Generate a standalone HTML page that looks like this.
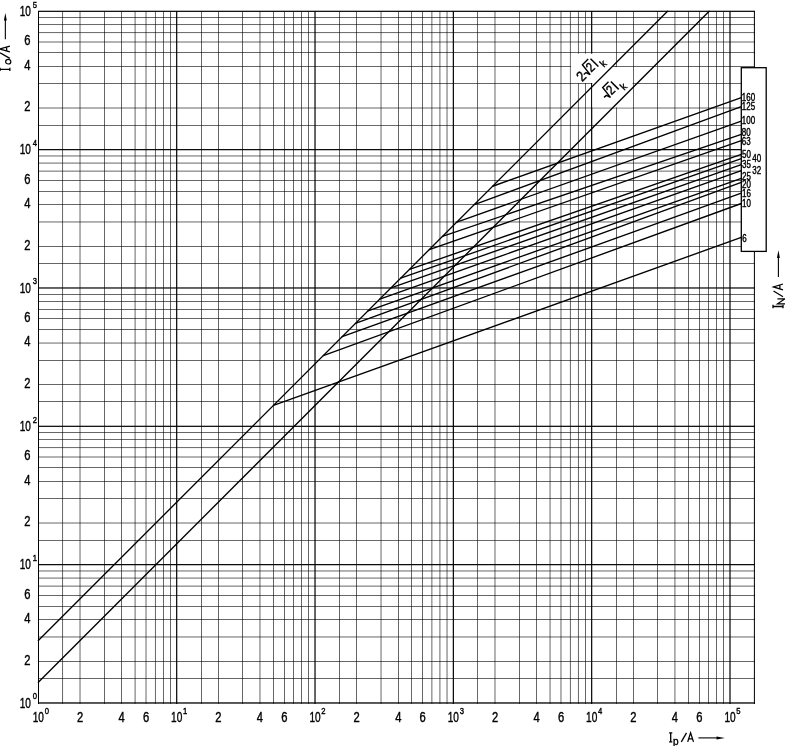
<!DOCTYPE html><html><head><meta charset="utf-8"><style>
html,body{margin:0;padding:0;background:#fff;}
svg{display:block;will-change:transform;}
text{font-family:"Liberation Sans", sans-serif;fill:#000;}
</style></head><body>
<svg width="785" height="746" viewBox="0 0 785 746">
<rect x="0" y="0" width="785" height="746" fill="#fff"/>

<g fill="#000" shape-rendering="crispEdges"><rect x="62" y="11" width="1" height="693" fill-opacity="0.572"/><rect x="63" y="11" width="1" height="693" fill-opacity="0.028"/><rect x="38" y="678" width="717" height="1" fill-opacity="0.600"/><rect x="79" y="11" width="1" height="693" fill-opacity="0.290"/><rect x="80" y="11" width="1" height="693" fill-opacity="0.310"/><rect x="38" y="661" width="717" height="1" fill-opacity="0.600"/><rect x="104" y="11" width="1" height="693" fill-opacity="0.600"/><rect x="38" y="636" width="717" height="1" fill-opacity="0.322"/><rect x="38" y="637" width="717" height="1" fill-opacity="0.278"/><rect x="121" y="11" width="1" height="693" fill-opacity="0.600"/><rect x="38" y="619" width="717" height="1" fill-opacity="0.600"/><rect x="134" y="11" width="1" height="693" fill-opacity="0.244"/><rect x="135" y="11" width="1" height="693" fill-opacity="0.356"/><rect x="38" y="606" width="717" height="1" fill-opacity="0.589"/><rect x="145" y="11" width="1" height="693" fill-opacity="0.291"/><rect x="146" y="11" width="1" height="693" fill-opacity="0.309"/><rect x="38" y="595" width="717" height="1" fill-opacity="0.600"/><rect x="154" y="11" width="1" height="693" fill-opacity="0.031"/><rect x="155" y="11" width="1" height="693" fill-opacity="0.569"/><rect x="38" y="585" width="717" height="1" fill-opacity="0.225"/><rect x="38" y="586" width="717" height="1" fill-opacity="0.375"/><rect x="163" y="11" width="1" height="693" fill-opacity="0.591"/><rect x="38" y="577" width="717" height="1" fill-opacity="0.247"/><rect x="38" y="578" width="717" height="1" fill-opacity="0.353"/><rect x="170" y="11" width="1" height="693" fill-opacity="0.600"/><rect x="38" y="570" width="717" height="1" fill-opacity="0.323"/><rect x="38" y="571" width="717" height="1" fill-opacity="0.277"/><rect x="176" y="11" width="1" height="693" fill-opacity="0.904"/><rect x="177" y="11" width="1" height="693" fill-opacity="0.296"/><rect x="38" y="564" width="717" height="1" fill-opacity="0.953"/><rect x="38" y="565" width="717" height="1" fill-opacity="0.247"/><rect x="201" y="11" width="1" height="693" fill-opacity="0.600"/><rect x="38" y="540" width="717" height="1" fill-opacity="0.588"/><rect x="218" y="11" width="1" height="693" fill-opacity="0.600"/><rect x="38" y="522" width="717" height="1" fill-opacity="0.295"/><rect x="38" y="523" width="717" height="1" fill-opacity="0.305"/><rect x="242" y="11" width="1" height="693" fill-opacity="0.600"/><rect x="38" y="498" width="717" height="1" fill-opacity="0.600"/><rect x="259" y="11" width="1" height="693" fill-opacity="0.323"/><rect x="260" y="11" width="1" height="693" fill-opacity="0.277"/><rect x="38" y="481" width="717" height="1" fill-opacity="0.600"/><rect x="273" y="11" width="1" height="693" fill-opacity="0.600"/><rect x="38" y="467" width="717" height="1" fill-opacity="0.600"/><rect x="284" y="11" width="1" height="693" fill-opacity="0.600"/><rect x="38" y="456" width="717" height="1" fill-opacity="0.297"/><rect x="38" y="457" width="717" height="1" fill-opacity="0.303"/><rect x="293" y="11" width="1" height="693" fill-opacity="0.600"/><rect x="38" y="447" width="717" height="1" fill-opacity="0.558"/><rect x="38" y="448" width="717" height="1" fill-opacity="0.042"/><rect x="301" y="11" width="1" height="693" fill-opacity="0.600"/><rect x="38" y="439" width="717" height="1" fill-opacity="0.580"/><rect x="308" y="11" width="1" height="693" fill-opacity="0.600"/><rect x="38" y="432" width="717" height="1" fill-opacity="0.600"/><rect x="314" y="11" width="1" height="693" fill-opacity="0.578"/><rect x="315" y="11" width="1" height="693" fill-opacity="0.622"/><rect x="38" y="425" width="717" height="1" fill-opacity="0.286"/><rect x="38" y="426" width="717" height="1" fill-opacity="0.914"/><rect x="339" y="11" width="1" height="693" fill-opacity="0.600"/><rect x="38" y="401" width="717" height="1" fill-opacity="0.600"/><rect x="356" y="11" width="1" height="693" fill-opacity="0.600"/><rect x="38" y="384" width="717" height="1" fill-opacity="0.600"/><rect x="380" y="11" width="1" height="693" fill-opacity="0.280"/><rect x="381" y="11" width="1" height="693" fill-opacity="0.320"/><rect x="38" y="360" width="717" height="1" fill-opacity="0.600"/><rect x="398" y="11" width="1" height="693" fill-opacity="0.600"/><rect x="38" y="342" width="717" height="1" fill-opacity="0.271"/><rect x="38" y="343" width="717" height="1" fill-opacity="0.329"/><rect x="411" y="11" width="1" height="693" fill-opacity="0.592"/><rect x="38" y="329" width="717" height="1" fill-opacity="0.600"/><rect x="422" y="11" width="1" height="693" fill-opacity="0.600"/><rect x="38" y="318" width="717" height="1" fill-opacity="0.600"/><rect x="431" y="11" width="1" height="693" fill-opacity="0.379"/><rect x="432" y="11" width="1" height="693" fill-opacity="0.221"/><rect x="38" y="309" width="717" height="1" fill-opacity="0.600"/><rect x="439" y="11" width="1" height="693" fill-opacity="0.357"/><rect x="440" y="11" width="1" height="693" fill-opacity="0.243"/><rect x="38" y="301" width="717" height="1" fill-opacity="0.600"/><rect x="446" y="11" width="1" height="693" fill-opacity="0.281"/><rect x="447" y="11" width="1" height="693" fill-opacity="0.319"/><rect x="38" y="294" width="717" height="1" fill-opacity="0.600"/><rect x="452" y="11" width="1" height="693" fill-opacity="0.252"/><rect x="453" y="11" width="1" height="693" fill-opacity="0.948"/><rect x="38" y="287" width="717" height="1" fill-opacity="0.619"/><rect x="38" y="288" width="717" height="1" fill-opacity="0.581"/><rect x="477" y="11" width="1" height="693" fill-opacity="0.594"/><rect x="38" y="263" width="717" height="1" fill-opacity="0.600"/><rect x="494" y="11" width="1" height="693" fill-opacity="0.312"/><rect x="495" y="11" width="1" height="693" fill-opacity="0.288"/><rect x="38" y="246" width="717" height="1" fill-opacity="0.600"/><rect x="519" y="11" width="1" height="693" fill-opacity="0.600"/><rect x="38" y="221" width="717" height="1" fill-opacity="0.321"/><rect x="38" y="222" width="717" height="1" fill-opacity="0.279"/><rect x="536" y="11" width="1" height="693" fill-opacity="0.600"/><rect x="38" y="204" width="717" height="1" fill-opacity="0.600"/><rect x="549" y="11" width="1" height="693" fill-opacity="0.266"/><rect x="550" y="11" width="1" height="693" fill-opacity="0.334"/><rect x="38" y="191" width="717" height="1" fill-opacity="0.590"/><rect x="560" y="11" width="1" height="693" fill-opacity="0.313"/><rect x="561" y="11" width="1" height="693" fill-opacity="0.287"/><rect x="38" y="180" width="717" height="1" fill-opacity="0.600"/><rect x="569" y="11" width="1" height="693" fill-opacity="0.053"/><rect x="570" y="11" width="1" height="693" fill-opacity="0.547"/><rect x="38" y="170" width="717" height="1" fill-opacity="0.224"/><rect x="38" y="171" width="717" height="1" fill-opacity="0.376"/><rect x="577" y="11" width="1" height="693" fill-opacity="0.031"/><rect x="578" y="11" width="1" height="693" fill-opacity="0.569"/><rect x="38" y="162" width="717" height="1" fill-opacity="0.246"/><rect x="38" y="163" width="717" height="1" fill-opacity="0.354"/><rect x="585" y="11" width="1" height="693" fill-opacity="0.600"/><rect x="38" y="155" width="717" height="1" fill-opacity="0.322"/><rect x="38" y="156" width="717" height="1" fill-opacity="0.278"/><rect x="591" y="11" width="1" height="693" fill-opacity="0.926"/><rect x="592" y="11" width="1" height="693" fill-opacity="0.274"/><rect x="38" y="149" width="717" height="1" fill-opacity="0.952"/><rect x="38" y="150" width="717" height="1" fill-opacity="0.248"/><rect x="616" y="11" width="1" height="693" fill-opacity="0.600"/><rect x="38" y="125" width="717" height="1" fill-opacity="0.589"/><rect x="633" y="11" width="1" height="693" fill-opacity="0.600"/><rect x="38" y="107" width="717" height="1" fill-opacity="0.294"/><rect x="38" y="108" width="717" height="1" fill-opacity="0.306"/><rect x="657" y="11" width="1" height="693" fill-opacity="0.600"/><rect x="38" y="83" width="717" height="1" fill-opacity="0.600"/><rect x="674" y="11" width="1" height="693" fill-opacity="0.345"/><rect x="675" y="11" width="1" height="693" fill-opacity="0.255"/><rect x="38" y="66" width="717" height="1" fill-opacity="0.600"/><rect x="688" y="11" width="1" height="693" fill-opacity="0.600"/><rect x="38" y="52" width="717" height="1" fill-opacity="0.600"/><rect x="699" y="11" width="1" height="693" fill-opacity="0.600"/><rect x="38" y="41" width="717" height="1" fill-opacity="0.296"/><rect x="38" y="42" width="717" height="1" fill-opacity="0.304"/><rect x="708" y="11" width="1" height="693" fill-opacity="0.600"/><rect x="38" y="32" width="717" height="1" fill-opacity="0.557"/><rect x="38" y="33" width="717" height="1" fill-opacity="0.043"/><rect x="716" y="11" width="1" height="693" fill-opacity="0.600"/><rect x="38" y="24" width="717" height="1" fill-opacity="0.579"/><rect x="38" y="25" width="717" height="1" fill-opacity="0.021"/><rect x="723" y="11" width="1" height="693" fill-opacity="0.600"/><rect x="38" y="17" width="717" height="1" fill-opacity="0.600"/><rect x="729" y="11" width="1" height="693" fill-opacity="0.600"/><rect x="730" y="11" width="1" height="693" fill-opacity="0.600"/><rect x="38" y="11" width="1" height="693" fill-opacity="1.000"/><rect x="753" y="11" width="1" height="693" fill-opacity="0.100"/><rect x="754" y="11" width="1" height="693" fill-opacity="0.900"/><rect x="38" y="10" width="717" height="1" fill-opacity="0.285"/><rect x="38" y="11" width="717" height="1" fill-opacity="0.915"/><rect x="38" y="702" width="717" height="1" fill-opacity="0.670"/><rect x="38" y="703" width="717" height="1" fill-opacity="0.630"/></g>
<rect x="570.95" y="53.66" width="44.38" height="29.29" fill="#fff"/>
<rect x="592.37" y="67.06" width="40.24" height="40.24" fill="#fff"/>
<rect x="612.5" y="66" width="3" height="1" fill="#000" fill-opacity="0.6" shape-rendering="crispEdges"/>
<g stroke="#000" stroke-width="1.35" fill="none" stroke-linecap="round"><line x1="38.37" y1="640.52" x2="667.54" y2="11.32"/><line x1="38.37" y1="682.16" x2="709.18" y2="11.32"/><line x1="273.47" y1="405.42" x2="741.30" y2="237.40"/><line x1="323.32" y1="355.57" x2="741.30" y2="203.50"/><line x1="342.18" y1="336.71" x2="741.30" y2="193.10"/><line x1="355.43" y1="323.46" x2="741.30" y2="182.30"/><line x1="368.02" y1="310.87" x2="741.30" y2="178.30"/><line x1="379.81" y1="299.08" x2="741.30" y2="170.70"/><line x1="391.08" y1="287.81" x2="741.30" y2="164.60"/><line x1="400.71" y1="278.18" x2="741.30" y2="158.70"/><line x1="409.55" y1="269.34" x2="741.30" y2="154.40"/><line x1="429.23" y1="249.65" x2="741.30" y2="140.70"/><line x1="442.44" y1="236.45" x2="741.30" y2="134.30"/><line x1="456.86" y1="222.03" x2="741.30" y2="121.20"/><line x1="474.35" y1="204.53" x2="741.30" y2="106.70"/><line x1="492.65" y1="186.24" x2="741.30" y2="97.60"/></g>
<rect x="741.30" y="67.7" width="24.90" height="183.70" fill="#fff" stroke="#000" stroke-width="1.3"/>
<text transform="translate(30.90,707.78) scale(0.72,1)" font-size="14" text-anchor="end" stroke="#000" stroke-width="0.4">10</text><text transform="translate(32.80,699.18) scale(0.85,1)" font-size="9" text-anchor="start" stroke="#000" stroke-width="0.4">0</text><text transform="translate(30.40,664.64) scale(0.8,1)" font-size="14" text-anchor="end" stroke="#000" stroke-width="0.4">2</text><text transform="translate(30.40,623.00) scale(0.8,1)" font-size="14" text-anchor="end" stroke="#000" stroke-width="0.4">4</text><text transform="translate(30.40,598.64) scale(0.8,1)" font-size="14" text-anchor="end" stroke="#000" stroke-width="0.4">6</text><text transform="translate(30.90,569.45) scale(0.72,1)" font-size="14" text-anchor="end" stroke="#000" stroke-width="0.4">10</text><text transform="translate(32.80,560.85) scale(0.85,1)" font-size="9" text-anchor="start" stroke="#000" stroke-width="0.4">1</text><text transform="translate(30.40,526.30) scale(0.8,1)" font-size="14" text-anchor="end" stroke="#000" stroke-width="0.4">2</text><text transform="translate(30.40,484.66) scale(0.8,1)" font-size="14" text-anchor="end" stroke="#000" stroke-width="0.4">4</text><text transform="translate(30.40,460.30) scale(0.8,1)" font-size="14" text-anchor="end" stroke="#000" stroke-width="0.4">6</text><text transform="translate(30.90,431.11) scale(0.72,1)" font-size="14" text-anchor="end" stroke="#000" stroke-width="0.4">10</text><text transform="translate(32.80,422.51) scale(0.85,1)" font-size="9" text-anchor="start" stroke="#000" stroke-width="0.4">2</text><text transform="translate(30.40,387.97) scale(0.8,1)" font-size="14" text-anchor="end" stroke="#000" stroke-width="0.4">2</text><text transform="translate(30.40,346.33) scale(0.8,1)" font-size="14" text-anchor="end" stroke="#000" stroke-width="0.4">4</text><text transform="translate(30.40,321.97) scale(0.8,1)" font-size="14" text-anchor="end" stroke="#000" stroke-width="0.4">6</text><text transform="translate(30.90,292.78) scale(0.72,1)" font-size="14" text-anchor="end" stroke="#000" stroke-width="0.4">10</text><text transform="translate(32.80,284.18) scale(0.85,1)" font-size="9" text-anchor="start" stroke="#000" stroke-width="0.4">3</text><text transform="translate(30.40,249.64) scale(0.8,1)" font-size="14" text-anchor="end" stroke="#000" stroke-width="0.4">2</text><text transform="translate(30.40,208.00) scale(0.8,1)" font-size="14" text-anchor="end" stroke="#000" stroke-width="0.4">4</text><text transform="translate(30.40,183.64) scale(0.8,1)" font-size="14" text-anchor="end" stroke="#000" stroke-width="0.4">6</text><text transform="translate(30.90,154.45) scale(0.72,1)" font-size="14" text-anchor="end" stroke="#000" stroke-width="0.4">10</text><text transform="translate(32.80,145.85) scale(0.85,1)" font-size="9" text-anchor="start" stroke="#000" stroke-width="0.4">4</text><text transform="translate(30.40,111.31) scale(0.8,1)" font-size="14" text-anchor="end" stroke="#000" stroke-width="0.4">2</text><text transform="translate(30.40,69.66) scale(0.8,1)" font-size="14" text-anchor="end" stroke="#000" stroke-width="0.4">4</text><text transform="translate(30.40,45.30) scale(0.8,1)" font-size="14" text-anchor="end" stroke="#000" stroke-width="0.4">6</text><text transform="translate(30.90,16.12) scale(0.72,1)" font-size="14" text-anchor="end" stroke="#000" stroke-width="0.4">10</text><text transform="translate(32.80,7.52) scale(0.85,1)" font-size="9" text-anchor="start" stroke="#000" stroke-width="0.4">5</text><text transform="translate(38.37,722.30) scale(0.72,1)" font-size="14" text-anchor="middle" stroke="#000" stroke-width="0.4">10</text><text transform="translate(44.67,713.80) scale(0.85,1)" font-size="9" text-anchor="start" stroke="#000" stroke-width="0.4">0</text><text transform="translate(80.01,722.30) scale(0.8,1)" font-size="14" text-anchor="middle" stroke="#000" stroke-width="0.4">2</text><text transform="translate(121.65,722.30) scale(0.8,1)" font-size="14" text-anchor="middle" stroke="#000" stroke-width="0.4">4</text><text transform="translate(146.01,722.30) scale(0.8,1)" font-size="14" text-anchor="middle" stroke="#000" stroke-width="0.4">6</text><text transform="translate(176.70,722.30) scale(0.72,1)" font-size="14" text-anchor="middle" stroke="#000" stroke-width="0.4">10</text><text transform="translate(183.00,713.80) scale(0.85,1)" font-size="9" text-anchor="start" stroke="#000" stroke-width="0.4">1</text><text transform="translate(218.34,722.30) scale(0.8,1)" font-size="14" text-anchor="middle" stroke="#000" stroke-width="0.4">2</text><text transform="translate(259.98,722.30) scale(0.8,1)" font-size="14" text-anchor="middle" stroke="#000" stroke-width="0.4">4</text><text transform="translate(284.33,722.30) scale(0.8,1)" font-size="14" text-anchor="middle" stroke="#000" stroke-width="0.4">6</text><text transform="translate(315.02,722.30) scale(0.72,1)" font-size="14" text-anchor="middle" stroke="#000" stroke-width="0.4">10</text><text transform="translate(321.32,713.80) scale(0.85,1)" font-size="9" text-anchor="start" stroke="#000" stroke-width="0.4">2</text><text transform="translate(356.66,722.30) scale(0.8,1)" font-size="14" text-anchor="middle" stroke="#000" stroke-width="0.4">2</text><text transform="translate(398.30,722.30) scale(0.8,1)" font-size="14" text-anchor="middle" stroke="#000" stroke-width="0.4">4</text><text transform="translate(422.66,722.30) scale(0.8,1)" font-size="14" text-anchor="middle" stroke="#000" stroke-width="0.4">6</text><text transform="translate(453.35,722.30) scale(0.72,1)" font-size="14" text-anchor="middle" stroke="#000" stroke-width="0.4">10</text><text transform="translate(459.65,713.80) scale(0.85,1)" font-size="9" text-anchor="start" stroke="#000" stroke-width="0.4">3</text><text transform="translate(494.99,722.30) scale(0.8,1)" font-size="14" text-anchor="middle" stroke="#000" stroke-width="0.4">2</text><text transform="translate(536.63,722.30) scale(0.8,1)" font-size="14" text-anchor="middle" stroke="#000" stroke-width="0.4">4</text><text transform="translate(560.99,722.30) scale(0.8,1)" font-size="14" text-anchor="middle" stroke="#000" stroke-width="0.4">6</text><text transform="translate(591.67,722.30) scale(0.72,1)" font-size="14" text-anchor="middle" stroke="#000" stroke-width="0.4">10</text><text transform="translate(597.97,713.80) scale(0.85,1)" font-size="9" text-anchor="start" stroke="#000" stroke-width="0.4">4</text><text transform="translate(633.31,722.30) scale(0.8,1)" font-size="14" text-anchor="middle" stroke="#000" stroke-width="0.4">2</text><text transform="translate(674.95,722.30) scale(0.8,1)" font-size="14" text-anchor="middle" stroke="#000" stroke-width="0.4">4</text><text transform="translate(699.31,722.30) scale(0.8,1)" font-size="14" text-anchor="middle" stroke="#000" stroke-width="0.4">6</text><text transform="translate(730.00,722.30) scale(0.72,1)" font-size="14" text-anchor="middle" stroke="#000" stroke-width="0.4">10</text><text transform="translate(736.30,713.80) scale(0.85,1)" font-size="9" text-anchor="start" stroke="#000" stroke-width="0.4">5</text>
<text transform="translate(741.80,100.50) scale(0.8,1)" font-size="10" stroke="#000" stroke-width="0.4">160</text><text transform="translate(741.80,110.00) scale(0.8,1)" font-size="10" stroke="#000" stroke-width="0.4">125</text><text transform="translate(741.80,123.80) scale(0.8,1)" font-size="10" stroke="#000" stroke-width="0.4">100</text><text transform="translate(741.80,136.20) scale(0.8,1)" font-size="10" stroke="#000" stroke-width="0.4">80</text><text transform="translate(741.80,144.60) scale(0.8,1)" font-size="10" stroke="#000" stroke-width="0.4">63</text><text transform="translate(742.10,157.70) scale(0.8,1)" font-size="10" stroke="#000" stroke-width="0.4">50</text><text transform="translate(752.20,161.50) scale(0.8,1)" font-size="10" stroke="#000" stroke-width="0.4">40</text><text transform="translate(742.10,167.70) scale(0.8,1)" font-size="10" stroke="#000" stroke-width="0.4">35</text><text transform="translate(752.20,173.70) scale(0.8,1)" font-size="10" stroke="#000" stroke-width="0.4">32</text><text transform="translate(742.10,179.70) scale(0.8,1)" font-size="10" stroke="#000" stroke-width="0.4">25</text><text transform="translate(742.10,187.80) scale(0.8,1)" font-size="10" stroke="#000" stroke-width="0.4">20</text><text transform="translate(742.10,197.30) scale(0.8,1)" font-size="10" stroke="#000" stroke-width="0.4">16</text><text transform="translate(742.10,206.90) scale(0.8,1)" font-size="10" stroke="#000" stroke-width="0.4">10</text><text transform="translate(742.20,241.50) scale(0.8,1)" font-size="10" stroke="#000" stroke-width="0.4">6</text>
<g transform="translate(670.7,741.9)"><path d="M0,0 V-9 M-1.6,0 H1.6 M-1.6,-9 H1.6" fill="none" stroke="#000" stroke-width="1.3"/></g><text transform="translate(673,744.8) scale(0.95,1)" font-size="10.5" stroke="#000" stroke-width="0.4">p</text><g transform="translate(0,741.9)"><path d="M681.3,0 L686.5,-9" fill="none" stroke="#000" stroke-width="1.3"/><path d="M687.7,0 L690.6,-9 L693.5,0 M688.86,-2.97 H692.34" fill="none" stroke="#000" stroke-width="1.3" stroke-linejoin="miter"/></g><line x1="698.4" y1="737.9" x2="718" y2="737.9" stroke="#000" stroke-width="1.1"/><path d="M716.5,736.4 L724.9,737.9 L716.5,739.4 Z" fill="#000"/><g transform="translate(9.85,71) rotate(-90)"><g transform="translate(1.7,0)"><path d="M0,0 V-9.8 M-1.6,0 H1.6 M-1.6,-9.8 H1.6" fill="none" stroke="#000" stroke-width="1.3"/></g><ellipse cx="9.3" cy="-1.6" rx="2.3" ry="2.6" fill="none" stroke="#000" stroke-width="1.2"/><path d="M12.6,0 L18.2,-9.8" fill="none" stroke="#000" stroke-width="1.3"/><path d="M19.2,0 L22.0,-9.8 L24.799999999999997,0 M20.32,-3.2340000000000004 H23.68" fill="none" stroke="#000" stroke-width="1.3" stroke-linejoin="miter"/></g><line x1="5.35" y1="39.2" x2="5.35" y2="19" stroke="#000" stroke-width="1.1"/><path d="M3.9,20.5 L5.35,13 L6.8,20.5 Z" fill="#000"/><g transform="translate(783,308.6) rotate(-90)"><g transform="translate(2.1,0)"><path d="M0,0 V-10 M-1.8,0 H1.8 M-1.8,-10 H1.8" fill="none" stroke="#000" stroke-width="1.3"/></g><path d="M4.8,2 V-5.5 L9.8,2 V-5.5" fill="none" stroke="#000" stroke-width="1.2"/><path d="M11.8,0 L17.6,-9.5" fill="none" stroke="#000" stroke-width="1.3"/><path d="M18.8,0 L21.7,-9.5 L24.6,0 M19.96,-3.1350000000000002 H23.44" fill="none" stroke="#000" stroke-width="1.3" stroke-linejoin="miter"/></g><line x1="778.4" y1="277" x2="778.4" y2="257" stroke="#000" stroke-width="1.1"/><path d="M776.95,258 L778.4,250.2 L779.85,258 Z" fill="#000"/>
<g transform="translate(582.4,81.7) rotate(-45)"><text transform="translate(-0.6,0.3) scale(0.85,1)" font-size="14.5" stroke="#000" stroke-width="0.4">2</text><path d="M6.0,-4.1 L9.0,-3.9 L10.5,0.5 L12,-12 L20.2,-12" fill="none" stroke="#000" stroke-width="1.4" stroke-linejoin="miter"/><text transform="translate(12.6,0) scale(0.85,1)" font-size="13.5" stroke="#000" stroke-width="0.4">2</text><line x1="22" y1="0.6" x2="22" y2="-10.5" stroke="#000" stroke-width="1.5"/><text transform="translate(25.0,5.4) scale(0.9,1)" font-size="10.5" stroke="#000" stroke-width="0.4">k</text></g><g transform="translate(602.7,104.5) rotate(-45)"><path d="M6.0,-4.1 L9.0,-3.9 L10.5,0.5 L12,-12 L20.2,-12" fill="none" stroke="#000" stroke-width="1.4" stroke-linejoin="miter"/><text transform="translate(12.6,0) scale(0.85,1)" font-size="13.5" stroke="#000" stroke-width="0.4">2</text><line x1="22" y1="0.6" x2="22" y2="-10.5" stroke="#000" stroke-width="1.5"/><text transform="translate(25.0,5.4) scale(0.9,1)" font-size="10.5" stroke="#000" stroke-width="0.4">k</text></g>
</svg></body></html>
